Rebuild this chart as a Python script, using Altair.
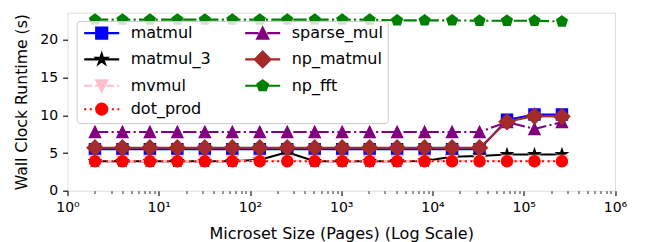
import altair as alt
import pandas as pd

# ---------------- data ----------------
pages = [2, 4, 8, 16, 32, 64, 128, 256, 512, 1024, 2048, 4096, 8192,
         16384, 32768, 65536, 131072, 262144]

series_names = ["matmul", "matmul_3", "mvmul", "dot_prod",
                "sparse_mul", "np_matmul", "np_fft"]

matmul = [5.5, 5.5, 5.5, 5.5, 5.5, 5.5, 5.5, 5.5, 5.5, 5.5, 5.5, 5.5, 5.5,
          5.5, 5.5, 9.4, 10.1, 10.1]
matmul_3 = [3.9, 3.9, 3.9, 3.9, 3.9, 3.9, 4.1, 5.1, 3.9, 3.9, 3.9, 3.9, 3.95,
            4.5, 4.6, 4.8, 4.8, 4.8]
mvmul = [3.95, 3.95, 3.95, 3.95, 3.95, 3.95, 3.95, 3.95, 3.95, 3.95, 3.95,
         3.95, 3.95, 3.95, 3.95, 3.95, 3.95, 3.95]
dot_prod = [3.9, 3.9, 3.9, 3.9, 3.9, 3.9, 3.9, 3.9, 3.9, 3.9, 3.9, 3.9, 3.9,
            3.9, 3.9, 3.9, 3.9, 3.9]
sparse_mul = [7.8, 7.8, 7.8, 7.8, 7.8, 7.8, 7.8, 7.8, 7.8, 7.8, 7.8, 7.8, 7.8,
              7.8, 7.8, 9.1, 8.2, 9.1]
np_matmul = [5.7, 5.7, 5.7, 5.7, 5.7, 5.7, 5.7, 5.7, 5.7, 5.7, 5.7, 5.7, 5.7,
             5.7, 5.7, 9.15, 9.9, 9.85]
np_fft = [22.7, 22.7, 22.7, 22.7, 22.7, 22.7, 22.7, 22.7, 22.7, 22.7, 22.7,
          22.6, 22.6, 22.6, 22.55, 22.55, 22.55, 22.45]

values = {"matmul": matmul, "matmul_3": matmul_3, "mvmul": mvmul,
          "dot_prod": dot_prod, "sparse_mul": sparse_mul,
          "np_matmul": np_matmul, "np_fft": np_fft}

x_major = [1, 10, 100, 1000, 10000, 100000, 1000000]
x_minor = [m * d for d in [1, 10, 100, 1000, 10000, 100000]
           for m in [2, 3, 4, 5, 6, 7, 8, 9]]
y_ticks = [0, 5, 10, 15, 20]

# ---------------- styles ----------------
colors = {"matmul": "#0000ff", "matmul_3": "#000000", "mvmul": "#ffc0cb",
          "dot_prod": "#ff0000", "sparse_mul": "#800080",
          "np_matmul": "#a52a2a", "np_fft": "#008000"}
LW = 2.08
DASHED = [7.7, 3.33]
DOTTED = [2.08, 3.44]
DASHDOT = [13.3, 3.33, 2.08, 3.33]
dashes = {"matmul": None, "matmul_3": None, "mvmul": DASHED,
          "dot_prod": DOTTED, "sparse_mul": DASHDOT, "np_matmul": None,
          "np_fft": DASHDOT}

STAR = ("M0,-1L0.2245,-0.309L0.951,-0.309L0.363,0.118L0.588,0.809L0,0.382"
        "L-0.588,0.809L-0.363,0.118L-0.951,-0.309L-0.2245,-0.309Z")
PENT = "M0,-1L0.951,-0.309L0.588,0.809L-0.588,0.809L-0.951,-0.309Z"
CIRCLE = "M1,0A1,1,0,1,1,-1,0A1,1,0,1,1,1,0Z"
shapes = {"matmul": "M-1,-1L1,-1L1,1L-1,1Z",
          "matmul_3": STAR,
          "mvmul": "M-1,-1L1,-1L0,1Z",
          "dot_prod": CIRCLE,
          "sparse_mul": "M0,-1L1,1L-1,1Z",
          "np_matmul": "M0,-1.414L1.414,0L0,1.414L-1.414,0Z",
          "np_fft": PENT}
MSIZE = 123.2           # sqrt(size) = 11.1 px marker
R = MSIZE ** 0.5 / 2    # px per path unit

FONT = "DejaVu Sans"

def legend_path(name, half_len=17.5):
    pat = dashes[name]
    parts = []
    if not pat:
        parts.append(f"M{-half_len / R:.3f},0L{half_len / R:.3f},0")
    else:
        pos, i = -half_len, 0
        while pos < half_len:
            d = pat[i % len(pat)]
            end = min(pos + d, half_len)
            if i % 2 == 0:
                parts.append(f"M{pos / R:.3f},0L{end / R:.3f},0")
            pos += d
            i += 1
    return "".join(parts) + shapes[name]

# ---------------- chart ----------------
is_major = ("abs(log(datum.value)/LN10 - round(log(datum.value)/LN10)) < 0.001")
xscale = alt.Scale(type="log", domain=[1, 1000000], nice=False)
yscale = alt.Scale(domain=[0, 23.62], nice=False, zero=False)
xaxis = alt.Axis(
    values=x_major + x_minor,
    labelExpr=is_major + " ? '10' + ['⁰','¹','²','³','⁴','⁵','⁶']"
              "[round(log(datum.value)/LN10)] : ''",
    tickSize={"condition": {"test": is_major, "value": 4.9}, "value": 2.8},
    tickWidth={"condition": {"test": is_major, "value": 1.1}, "value": 0.85},
    tickColor="black", labelColor="black", labelFont=FONT, labelFontSize=14,
    labelPadding=4.9, labelOverlap=False, labelFlush=False, domain=False,
    grid=False, title="Microset Size (Pages) (Log Scale)", titleFont=FONT,
    titleFontSize=16, titleFontWeight="normal", titleColor="black",
    titlePadding=11)
yaxis = alt.Axis(
    values=y_ticks, tickSize=4.9, tickWidth=1.1, tickColor="black",
    labelColor="black", labelFont=FONT, labelFontSize=14, labelPadding=4.9,
    domain=False, grid=False, title="Wall Clock Runtime (s)", titleFont=FONT,
    titleFontSize=15.7, titleFontWeight="normal", titleColor="black",
    titlePadding=10)

layers = []
for name in series_names:
    df = pd.DataFrame({"pages": pages, "runtime": values[name]})
    base = alt.Chart(df).encode(
        x=alt.X("pages:Q", scale=xscale, axis=xaxis),
        y=alt.Y("runtime:Q", scale=yscale, axis=yaxis))
    line_kw = dict(color=colors[name], strokeWidth=LW, strokeJoin="round")
    if dashes[name]:
        line_kw.update(strokeDash=dashes[name], strokeCap="butt")
    else:
        line_kw.update(strokeCap="square")
    layers.append(base.mark_line(**line_kw))
    layers.append(base.mark_point(
        shape=shapes[name], size=MSIZE, filled=True, fill=colors[name],
        stroke=colors[name], strokeWidth=1.39, opacity=1))

# legend: two columns, filled column by column
legend_order = series_names
leg = alt.Legend(
    orient="none", legendX=9.2, legendY=8.3, columns=2, title=None,
    symbolSize=MSIZE, symbolStrokeWidth=LW, symbolOffset=13,
    labelOffset=21, labelFont=FONT, labelFontSize=16, labelColor="black",
    labelLimit=0, rowPadding=3.4, columnPadding=29, padding=4,
    fillColor="rgba(255,255,255,0.8)", strokeColor="#cccccc",
    cornerRadius=3, symbolOpacity=1)
leg_df = pd.DataFrame({"series": series_names})
legend_layer = alt.Chart(leg_df).transform_filter("false").mark_point(
    filled=True, opacity=1, strokeWidth=LW).encode(
    fill=alt.Fill("series:N", scale=alt.Scale(
        domain=legend_order, range=[colors[n] for n in legend_order]),
        legend=leg),
    stroke=alt.Stroke("series:N", scale=alt.Scale(
        domain=legend_order, range=[colors[n] for n in legend_order]),
        legend=leg),
    shape=alt.Shape("series:N", scale=alt.Scale(
        domain=legend_order, range=[legend_path(n) for n in legend_order]),
        legend=leg))
layers.append(legend_layer)

chart = alt.layer(*layers).properties(
    width=547.5, height=178,
    autosize=alt.AutoSizeParams(type="none"),
    padding={"left": 59.5, "top": 4.7, "right": 26, "bottom": 51.3},
).configure_view(stroke="black", strokeWidth=1.1).configure(
    font=FONT, background="white")

chart.save("out.html", embed_options={"renderer": "svg", "actions": False})
